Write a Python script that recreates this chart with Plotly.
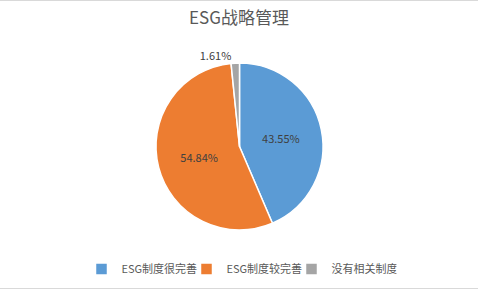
import plotly.graph_objects as go

title = "ESG战略管理"
categories = ["ESG制度很完善", "ESG制度较完善", "没有相关制度"]
values = [27, 34, 1]
colors = ["#5B9BD5", "#ED7D31", "#A5A5A5"]

W, H = 478, 289
FONT = "Noto Sans CJK SC, DejaVu Sans"
fig = go.Figure(go.Pie(
    labels=categories,
    values=values,
    sort=False,
    direction="clockwise",
    rotation=0,
    marker=dict(colors=colors, line=dict(color="white", width=1.5)),
    texttemplate="%{percent:.2%}",
    textposition=["inside", "inside", "outside"],
    insidetextorientation="horizontal",
    textfont=dict(family=FONT, size=11, color="#404040"),
    outsidetextfont=dict(family=FONT, size=11, color="#404040"),
    domain=dict(x=[156 / W, 323 / W], y=[1 - 230 / H, 1 - 63 / H]),
    hoverinfo="label+percent",
))

fig.update_layout(
    width=W, height=H,
    margin=dict(l=0, r=0, t=0, b=0),
    paper_bgcolor="white",
    title=dict(text=title, x=0.5, xanchor="center", y=1 - 18 / H, yanchor="middle",
               font=dict(family=FONT, size=17, color="#595959")),
    legend=dict(orientation="h", x=0.5, xanchor="center", y=1 - 269 / H, yanchor="middle",
                font=dict(family=FONT, size=11, color="#595959"),
                itemwidth=30, tracegroupgap=0, entrywidth=60, entrywidthmode="pixels"),
    showlegend=True,
    shapes=[
        dict(type="line", xref="paper", yref="paper", x0=0, x1=1, y0=1 - 0.5 / H, y1=1 - 0.5 / H,
             line=dict(color="#D9D9D9", width=1)),
        dict(type="line", xref="paper", yref="paper", x0=0, x1=1, y0=0.5 / H, y1=0.5 / H,
             line=dict(color="#D9D9D9", width=1)),
    ],
)

fig.write_html("out.html")
